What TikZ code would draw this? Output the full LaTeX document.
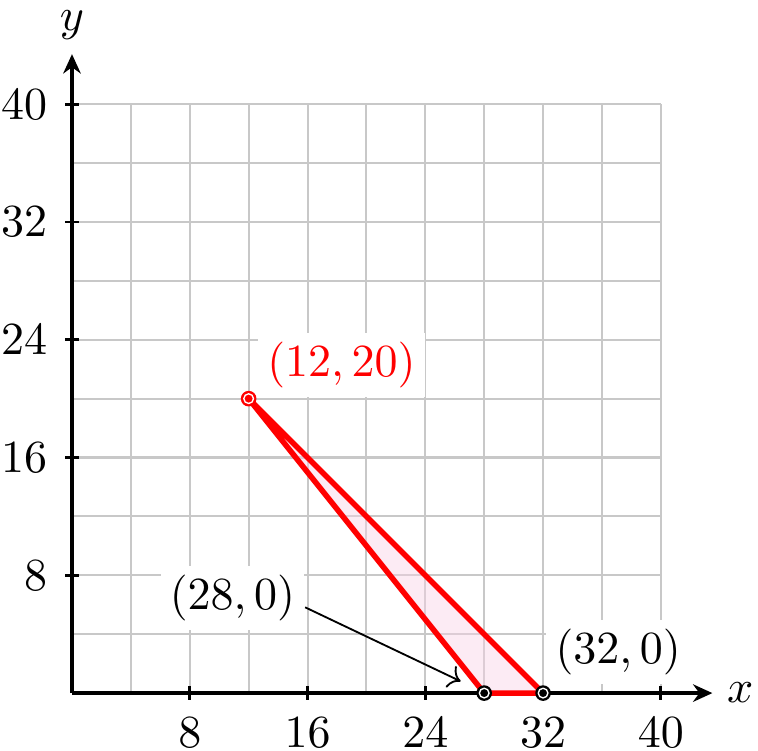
\documentclass[tikz,border=0pt]{standalone}
\usepackage{amsmath,amssymb}
\usepackage{tikz}
\usetikzlibrary{arrows.meta,calc}
\usepackage{xcolor}
\definecolor{gridgray}{RGB}{200,200,200}
\definecolor{region}{RGB}{248,210,230}

\begin{document}
\begin{tikzpicture}[
  x=0.1125cm, y=0.1125cm,
  axis/.style={-{Stealth[length=4.2pt,width=3.8pt]}, line width=0.8pt},
  grid lines/.style={gridgray, line width=0.45pt},
  edge/.style={red, line width=1.2pt, line join=round},
  lbl/.style={fill=white, inner sep=2pt},
  vtx/.style={circle, inner sep=0pt, minimum size=3.4pt}
]
  \useasboundingbox (-4.89,-3.87) rectangle (46.6,47.08);

  \draw[grid lines] (0,0) grid[step=4] (40,40);

  \fill[region, fill opacity=0.45] (12,20) -- (28,0) -- (32,0) -- cycle;

  \draw[axis] (0,0) -- (43.5,0);
  \draw[axis] (0,0) -- (0,43.4);
  \node (xlab) at (45.4,0) {$x$};
  \node[inner sep=0.5pt] (ylab) at (0,45.4) {$y$};

  \foreach \t in {8,16,24,32,40} {
    \draw[line width=0.6pt] (\t,0) ++(0,-1.5pt) -- ++(0,3pt);
    \draw[line width=0.6pt] (0,\t) ++(-1.5pt,0) -- ++(3pt,0);
    \node[below=1.9pt] at (\t,0) {$\t$};
    \node[left=1.9pt] at (0,\t) {$\t$};
  }

  \draw[edge] (12,20) -- (28,0) -- (32,0) -- cycle;

  \node[vtx, fill=red] (p1) at (12,20) {};
  \node[vtx, fill=black] (p2) at (28,0) {};
  \node[vtx, fill=black] (p3) at (32,0) {};
  \foreach \p in {p1,p2,p3}
    \draw[white, line width=0.3pt] (\p) circle (1.05pt);

  \node[lbl, text=red] (l1) at (18.3,22.3) {$(12,20)$};
  \node[lbl] (l2) at (10.9,6.45) {$(28,0)$};
  \node[lbl] (l3) at (37.1,2.8) {$(32,0)$};

  \coordinate (tip) at (26.4,0.8);
  \draw[->, line width=0.4pt] ([yshift=-2pt]l2.east) -- (tip);
\end{tikzpicture}
\end{document}
